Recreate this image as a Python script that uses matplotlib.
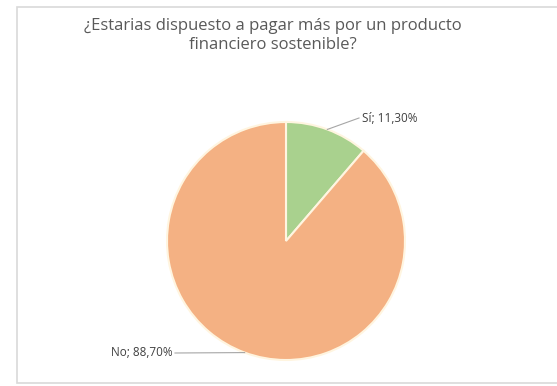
import numpy as np
import matplotlib
matplotlib.use("Agg")
import matplotlib.pyplot as plt
from matplotlib.patches import Rectangle

# Survey answers
categories = ["Sí", "No"]
shares = [11.30, 88.70]
colors = ["#A9D18E", "#F4B183"]
title = "¿Estarias dispuesto a pagar más por un producto\nfinanciero sostenible?"

W, H = 557, 386
fig = plt.figure(figsize=(W / 100, H / 100), dpi=100)
ax = fig.add_axes([0, 0, 1, 1])
ax.set_xlim(0, W)
ax.set_ylim(0, H)
ax.set_aspect("equal")
ax.axis("off")

# chart area frame
ax.add_patch(Rectangle((17, 3), W, H - 10, facecolor="white",
                       edgecolor="#D9D9D9", lw=1.2, zorder=0))

center = (286, H - 241)
radius = 119
wedges, _ = ax.pie(shares, colors=colors, startangle=90, counterclock=False,
                   center=center, radius=radius, frame=True,
                   wedgeprops=dict(edgecolor="#FFF5E0", linewidth=1.5))
ax.set_xlim(0, W)
ax.set_ylim(0, H)
ax.axis("off")

fmt = lambda v: f"{v:.2f}".replace(".", ",") + "%"
label_pos = [(362, H - 118), (173, H - 353)]
aligns = ["left", "right"]
for w, cat, val, pos, ha in zip(wedges, categories, shares, label_pos, aligns):
    ang = np.deg2rad((w.theta1 + w.theta2) / 2)
    px = center[0] + radius * np.cos(ang)
    py = center[1] + radius * np.sin(ang)
    tx = pos[0] - 3 if ha == "left" else pos[0] + 2
    ax.plot([px, tx], [py, pos[1]], color="#A6A6A6", lw=0.8, zorder=3)
    ax.text(pos[0], pos[1], f"{cat}; {fmt(val)}", ha=ha, va="center",
            fontsize=8.5, color="#404040", family="Open Sans", zorder=4)

ax.text(273, H - 35.5, title, ha="center", va="center", fontsize=12,
        color="#595959", family="Open Sans", linespacing=1.25)

fig.savefig("out.png", dpi=100)
